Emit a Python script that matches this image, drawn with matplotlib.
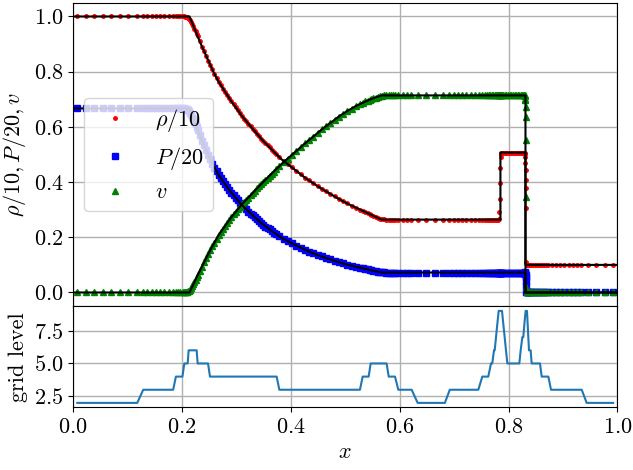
import matplotlib
matplotlib.use("Agg")
import matplotlib.pyplot as plt

plt.rcParams["font.family"] = "serif"
plt.rcParams["font.serif"] = ["cmr10"]
plt.rcParams["mathtext.fontset"] = "cm"
plt.rcParams["axes.formatter.use_mathtext"] = True
plt.rcParams["font.size"] = 16

# cell centres of the AMR solution
x_cells = [
    0.0078, 0.0234, 0.0391, 0.0547, 0.0703, 0.0859, 0.1016, 0.1172,
    0.1289, 0.1367, 0.1445, 0.1523, 0.1602, 0.1680, 0.1758, 0.1836,
    0.1895, 0.1934, 0.1973, 0.2012, 0.2041, 0.2061, 0.2080, 0.2100,
    0.2114, 0.2134, 0.2153, 0.2173, 0.2192, 0.2212, 0.2231, 0.2251,
    0.2271, 0.2290, 0.2329, 0.2368, 0.2407, 0.2446, 0.2485,
    0.2520, 0.2559, 0.2598, 0.2637, 0.2676, 0.2715, 0.2754, 0.2793,
    0.2832, 0.2871, 0.2910, 0.2949, 0.2988, 0.3027, 0.3066, 0.3105,
    0.3145, 0.3184, 0.3223, 0.3262, 0.3301, 0.3340, 0.3379, 0.3418,
    0.3457, 0.3496, 0.3535, 0.3574, 0.3613, 0.3652, 0.3691, 0.3730,
    0.3789, 0.3867, 0.3945, 0.4023, 0.4102, 0.4180, 0.4258, 0.4336, 0.4414, 0.4492,
    0.4570, 0.4648, 0.4727, 0.4805, 0.4883, 0.4961, 0.5039, 0.5117, 0.5195, 0.5273,
    0.5332, 0.5371, 0.5410, 0.5449, 0.5479, 0.5518, 0.5557, 0.5596, 0.5635, 0.5674, 0.5713, 0.5752,
    0.5801, 0.5840, 0.5879, 0.5918, 0.5977, 0.6055, 0.6133, 0.6211, 0.6328, 0.6484, 0.6641, 0.6797, 0.6914,
    0.6992, 0.7070, 0.7148, 0.7227, 0.7305, 0.7383, 0.7461, 0.7520, 0.7559, 0.7598, 0.7637, 0.7666, 0.7690,
    0.7720, 0.7750, 0.7775, 0.7795, 0.7810,
    0.7822, 0.7828, 0.7834, 0.7840, 0.7846, 0.7852, 0.7858, 0.7864,
    0.7880, 0.7905, 0.7930, 0.7960, 0.7990, 0.8020, 0.8050, 0.8080, 0.8110,
    0.8140, 0.8170, 0.8200, 0.8225, 0.8250, 0.8270, 0.8285, 0.8296,
    0.8302, 0.8305, 0.8308, 0.8311, 0.8314, 0.8317, 0.8320, 0.8323,
    0.8330, 0.8345, 0.8360, 0.8375, 0.8395, 0.8420, 0.8450, 0.8480, 0.8510,
    0.8540, 0.8570, 0.8613, 0.8652, 0.8691, 0.8730, 0.8789, 0.8867, 0.8945,
    0.9023, 0.9102, 0.9180, 0.9258, 0.9336, 0.9453, 0.9609, 0.9766, 0.9922,
]

rho_cells = [
    1.0, 1.0, 1.0, 1.0, 1.0, 1.0, 1.0, 1.0,
    1.0, 1.0, 1.0, 1.0, 1.0, 1.0, 1.0, 1.0,
    1.0, 1.0, 1.0, 1.0, 1.0, 0.999, 0.999, 0.997,
    0.995, 0.990, 0.986, 0.980, 0.973, 0.965, 0.956, 0.947,
    0.937, 0.928, 0.910, 0.891, 0.874, 0.857, 0.840,
    0.825, 0.808, 0.792, 0.778, 0.763, 0.751, 0.739, 0.727,
    0.716, 0.704, 0.692, 0.682, 0.671, 0.660, 0.649, 0.639,
    0.630, 0.620, 0.611, 0.602, 0.593, 0.584, 0.575, 0.566,
    0.557, 0.549, 0.541, 0.533, 0.526, 0.518, 0.510, 0.502,
    0.491, 0.477, 0.465, 0.453, 0.440, 0.428, 0.416, 0.406, 0.396, 0.386,
    0.376, 0.366, 0.357, 0.348, 0.339, 0.331, 0.323, 0.315, 0.307, 0.300,
    0.295, 0.291, 0.288, 0.284, 0.281, 0.278, 0.275, 0.271, 0.268, 0.266, 0.265, 0.264,
    0.264, 0.264, 0.264, 0.264, 0.264, 0.264, 0.264, 0.264, 0.264, 0.264, 0.264, 0.264, 0.264,
    0.264, 0.264, 0.264, 0.264, 0.264, 0.264, 0.264, 0.264, 0.264, 0.264, 0.264, 0.264, 0.264,
    0.264, 0.264, 0.264, 0.264, 0.264,
    0.268, 0.290, 0.340, 0.395, 0.450, 0.490, 0.503, 0.507,
    0.507, 0.507, 0.507, 0.507, 0.507, 0.507, 0.507, 0.507, 0.507,
    0.507, 0.507, 0.507, 0.507, 0.507, 0.507, 0.507, 0.507,
    0.500, 0.491, 0.468, 0.443, 0.407, 0.377, 0.305, 0.112,
    0.101, 0.100, 0.100, 0.100, 0.100, 0.100, 0.100, 0.100, 0.100,
    0.100, 0.100, 0.100, 0.100, 0.100, 0.100, 0.100, 0.100, 0.100,
    0.100, 0.100, 0.100, 0.100, 0.100, 0.100, 0.100, 0.100, 0.100,
]

p_cells = [
    0.667, 0.667, 0.667, 0.667, 0.667, 0.667, 0.667, 0.667,
    0.667, 0.667, 0.667, 0.667, 0.667, 0.667, 0.667, 0.667,
    0.667, 0.667, 0.667, 0.667, 0.667, 0.666, 0.666, 0.663,
    0.661, 0.656, 0.651, 0.645, 0.637, 0.628, 0.619, 0.609,
    0.598, 0.589, 0.570, 0.550, 0.533, 0.515, 0.499,
    0.484, 0.467, 0.452, 0.439, 0.425, 0.414, 0.403, 0.392,
    0.382, 0.371, 0.361, 0.352, 0.343, 0.334, 0.324, 0.316,
    0.309, 0.301, 0.293, 0.286, 0.279, 0.272, 0.265, 0.258,
    0.251, 0.245, 0.239, 0.234, 0.229, 0.223, 0.217, 0.211,
    0.204, 0.194, 0.186, 0.178, 0.170, 0.162, 0.155, 0.148, 0.142, 0.136,
    0.131, 0.125, 0.120, 0.115, 0.110, 0.106, 0.101, 0.097, 0.093, 0.090,
    0.087, 0.085, 0.084, 0.082, 0.080, 0.079, 0.0775, 0.0757, 0.0743, 0.0733, 0.0728, 0.0724,
    0.0724, 0.0724, 0.0724, 0.0724, 0.0724, 0.0724, 0.0724, 0.0724, 0.0724, 0.0724, 0.0724, 0.0724, 0.0724,
    0.0724, 0.0724, 0.0724, 0.0724, 0.0724, 0.0724, 0.0724, 0.0724, 0.0724, 0.0724, 0.0724, 0.0724, 0.0724,
    0.0724, 0.0724, 0.0724, 0.0724, 0.0724,
    0.0724, 0.0724, 0.0724, 0.0724, 0.0724, 0.0724, 0.0724, 0.0724,
    0.0724, 0.0724, 0.0724, 0.0724, 0.0724, 0.0724, 0.0724, 0.0724, 0.0724,
    0.0724, 0.0724, 0.0724, 0.0724, 0.0724, 0.0724, 0.0724, 0.0724,
    0.0725, 0.0715, 0.068, 0.063, 0.055, 0.042, 0.022, 0.002,
    0.0, 0.0, 0.0, 0.0, 0.0, 0.0, 0.0, 0.0, 0.0,
    0.0, 0.0, 0.0, 0.0, 0.0, 0.0, 0.0, 0.0, 0.0,
    0.0, 0.0, 0.0, 0.0, 0.0, 0.0, 0.0, 0.0, 0.0,
]

v_cells = [
    0.0, 0.0, 0.0, 0.0, 0.0, 0.0, 0.0, 0.0,
    0.0, 0.0, 0.0, 0.0, 0.0, 0.0, 0.0, 0.0,
    0.0, 0.0, 0.0, 0.001, 0.001, 0.002, 0.002, 0.003,
    0.004, 0.006, 0.009, 0.016, 0.023, 0.030, 0.038, 0.047,
    0.055, 0.063, 0.079, 0.094, 0.110, 0.125, 0.140,
    0.153, 0.167, 0.181, 0.195, 0.209, 0.220, 0.231, 0.242,
    0.253, 0.263, 0.273, 0.283, 0.292, 0.301, 0.311, 0.320,
    0.328, 0.336, 0.344, 0.352, 0.361, 0.369, 0.377, 0.385,
    0.393, 0.401, 0.408, 0.416, 0.423, 0.431, 0.438, 0.446,
    0.457, 0.472, 0.485, 0.499, 0.513, 0.526, 0.540, 0.552, 0.565, 0.578,
    0.591, 0.602, 0.614, 0.626, 0.637, 0.647, 0.656, 0.665, 0.675, 0.682,
    0.688, 0.692, 0.695, 0.699, 0.701, 0.704, 0.706, 0.709, 0.711, 0.713, 0.714, 0.714,
    0.714, 0.714, 0.714, 0.714, 0.714, 0.714, 0.714, 0.714, 0.714, 0.714, 0.714, 0.714, 0.714,
    0.714, 0.714, 0.714, 0.714, 0.714, 0.714, 0.714, 0.714, 0.714, 0.714, 0.714, 0.714, 0.714,
    0.714, 0.714, 0.714, 0.714, 0.714,
    0.714, 0.714, 0.714, 0.714, 0.714, 0.714, 0.714, 0.714,
    0.714, 0.714, 0.714, 0.714, 0.714, 0.714, 0.714, 0.714, 0.714,
    0.714, 0.714, 0.714, 0.714, 0.714, 0.714, 0.714, 0.714,
    0.712, 0.700, 0.696, 0.672, 0.636, 0.552, 0.347, 0.020,
    0.0, 0.0, 0.0, 0.0, 0.0, 0.0, 0.0, 0.0, 0.0,
    0.0, 0.0, 0.0, 0.0, 0.0, 0.0, 0.0, 0.0, 0.0,
    0.0, 0.0, 0.0, 0.0, 0.0, 0.0, 0.0, 0.0, 0.0,
]

# exact solution (black lines)
x_exact = [0.0, 0.214, 0.219, 0.224, 0.2295, 0.236, 0.2485, 0.257, 0.267, 0.2785,
           0.290, 0.310, 0.327, 0.3466, 0.365, 0.3833, 0.404, 0.426, 0.4425, 0.4597,
           0.490, 0.505, 0.521, 0.545, 0.556, 0.567, 0.785, 0.785, 0.831, 0.831, 1.0]
rho_exact = [1.0, 1.0, 0.976, 0.952, 0.926, 0.895, 0.840, 0.803, 0.765, 0.730,
             0.695, 0.640, 0.600, 0.555, 0.518, 0.482, 0.450, 0.416, 0.394, 0.372,
             0.337, 0.321, 0.306, 0.284, 0.274, 0.264, 0.264, 0.507, 0.507, 0.100, 0.100]
p_exact = [0.667, 0.667, 0.640, 0.614, 0.587, 0.554, 0.499, 0.463, 0.427, 0.395,
           0.364, 0.317, 0.285, 0.250, 0.223, 0.198, 0.176, 0.155, 0.141, 0.128,
           0.109, 0.100, 0.093, 0.082, 0.077, 0.0724, 0.0724, 0.0724, 0.0724, 0.0, 0.0]
v_exact = [0.0, 0.0, 0.021, 0.042, 0.065, 0.091, 0.140, 0.171, 0.207, 0.239,
           0.271, 0.319, 0.354, 0.395, 0.431, 0.466, 0.502, 0.540, 0.567, 0.595,
           0.640, 0.659, 0.677, 0.699, 0.707, 0.714, 0.714, 0.714, 0.714, 0.0, 0.0]

# refinement level along x
x_level = [0.008, 0.118, 0.129, 0.184, 0.189, 0.201, 0.2045, 0.2106, 0.2124, 0.2271,
           0.229, 0.248, 0.2516, 0.374, 0.379, 0.527, 0.532, 0.543, 0.5467, 0.576,
           0.5798, 0.5914, 0.5975, 0.622, 0.633, 0.683, 0.692, 0.7444, 0.7517, 0.7627,
           0.7677, 0.7700, 0.7732, 0.7745, 0.7769, 0.7793, 0.7818, 0.7879, 0.7903, 0.7928,
           0.7952, 0.7977, 0.8197, 0.8222, 0.8252, 0.827, 0.829, 0.8313, 0.8338, 0.835,
           0.8362, 0.8375, 0.8405, 0.8424, 0.8577, 0.8608, 0.873, 0.8779, 0.9343, 0.9434,
           0.992]
level = [2, 2, 3, 3, 4, 4, 5, 5, 6, 6,
         5, 5, 4, 4, 3, 3, 4, 4, 5, 5,
         4, 4, 3, 3, 2, 2, 3, 3, 4, 4,
         5, 5, 6, 6, 7, 8, 9, 9, 8, 7,
         6, 5, 5, 6, 7, 7, 8, 9, 9, 8,
         7, 6, 6, 5, 5, 4, 4, 3, 3, 2,
         2]

fig, (ax1, ax2) = plt.subplots(2, 1, sharex=True, figsize=(6.33, 4.70), dpi=100,
                               gridspec_kw=dict(height_ratios=[3, 1], hspace=0))
fig.subplots_adjust(left=0.1153, right=0.9755, top=0.9943, bottom=0.133)

ax1.plot(x_cells, rho_cells, "r.", ms=5, label=r"$\rho/10$")
ax1.plot(x_cells, p_cells, "bs", ms=4, label=r"$P/20$")
ax1.plot(x_cells, v_cells, "g^", ms=4, label=r"$v$")
ax1.plot(x_exact, rho_exact, "k-", lw=1.5)
ax1.plot(x_exact, p_exact, "k-", lw=1.5)
ax1.plot(x_exact, v_exact, "k-", lw=1.5)
ax1.set_ylabel(r"$\rho/10, P/20, v$")
ax1.grid(True, lw=1.0)
ax1.legend(loc="center left")

ax2.plot(x_level, level, lw=1.5)
ax2.set_ylabel("grid level")
ax2.set_xlabel(r"$x$")
ax2.grid(True, lw=1.0)
ax2.set_xlim(0, 1)

fig.align_ylabels([ax1, ax2])
fig.savefig("out.png")
